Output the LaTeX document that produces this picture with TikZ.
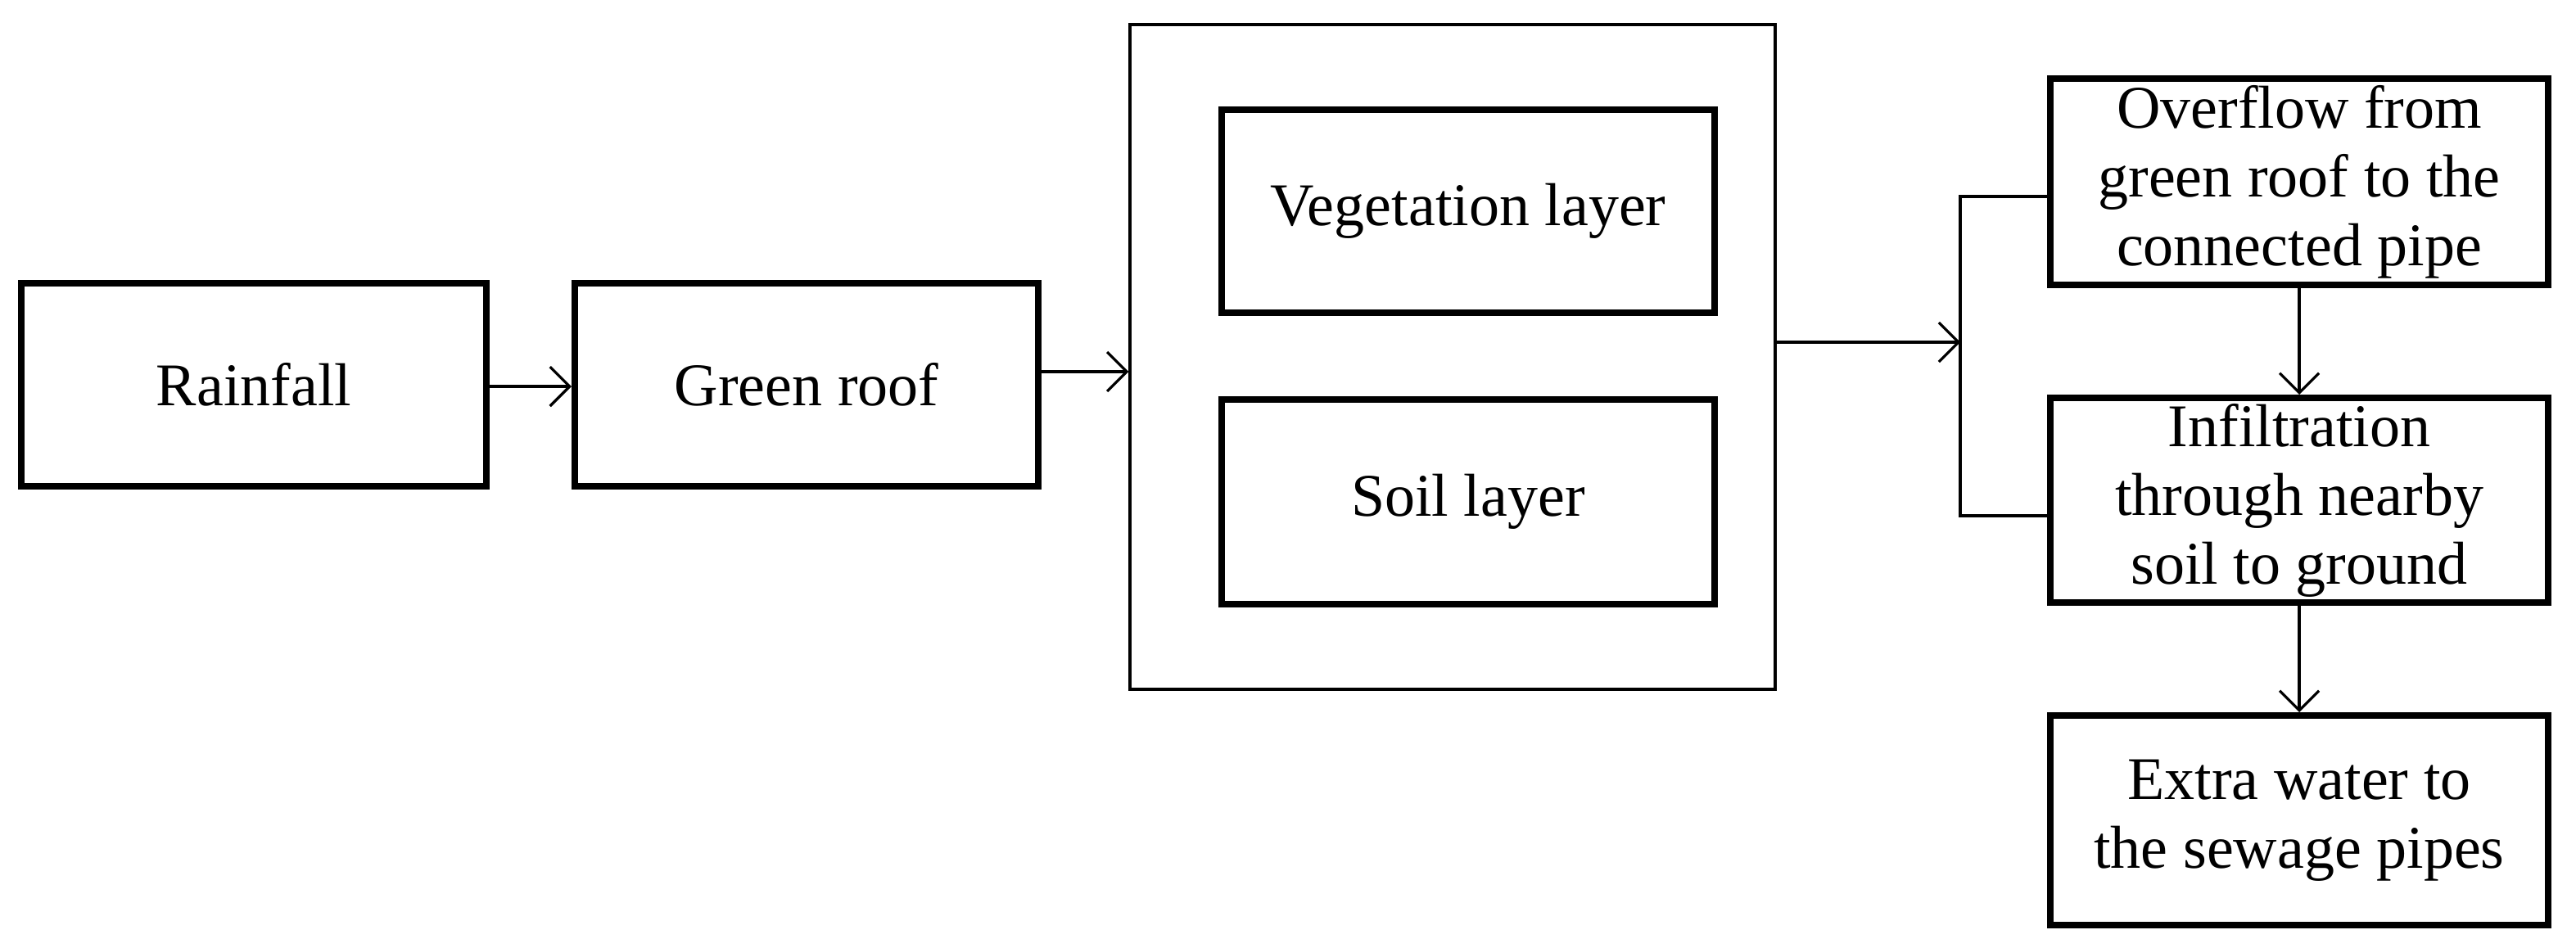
\documentclass[tikz,border=0pt]{standalone}
\usepackage{fontspec}
\setmainfont{Liberation Serif}
\usetikzlibrary{arrows.meta}
\begin{document}
\begin{tikzpicture}[x=0.5pt,y=-0.5pt,
  box/.style={draw,line width=2pt,inner sep=0pt,align=center,font=\fontsize{18.5}{21}\selectfont},
  con/.style={line width=0.8pt,-{Straight Barb[length=6pt,width=12pt,line width=0.8pt]}},
  ln/.style={line width=0.8pt}]
\useasboundingbox (0,0) rectangle (1573,578.5);
\node[box,minimum width=142pt,minimum height=62pt] (rain) at (155,235) {Rainfall};
\node[box,minimum width=141.5pt,minimum height=62pt] (green) at (492.5,235) {Green roof};
\node[draw,line width=0.8pt,minimum width=197pt,minimum height=203pt,inner sep=0pt] (big) at (887,218) {};
\node[box,minimum width=150.5pt,minimum height=62pt] (veg) at (896.5,129) {Vegetation layer};
\node[box,minimum width=150.5pt,minimum height=62.5pt] (soil) at (896.5,306.5) {Soil layer};
\node[box,minimum width=152pt,minimum height=63pt] (over) at (1404,111) {Overflow from\\green roof to the\\connected pipe};
\node[box,minimum width=152pt,minimum height=62.5pt] (inf) at (1404,305.5) {Infiltration\\through nearby\\soil to ground};
\node[box,minimum width=152pt,minimum height=64pt] (extra) at (1404,501) {Extra water to\\the sewage pipes};
\coordinate (j) at (1197,209);
\draw[con] (rain.east |- 0,236) -- (green.west |- 0,236);
\draw[con] (green.east |- 0,227) -- (big.west |- 0,227);
\draw[con] (big.east |- j) -- (j);
\draw[ln] (over.west |- 0,120) -- (1197,120) -- (1197,315) -- (inf.west |- 0,315);
\draw[con] (over.south) -- (inf.north);
\draw[con] (inf.south) -- (extra.north);
\end{tikzpicture}
\end{document}
